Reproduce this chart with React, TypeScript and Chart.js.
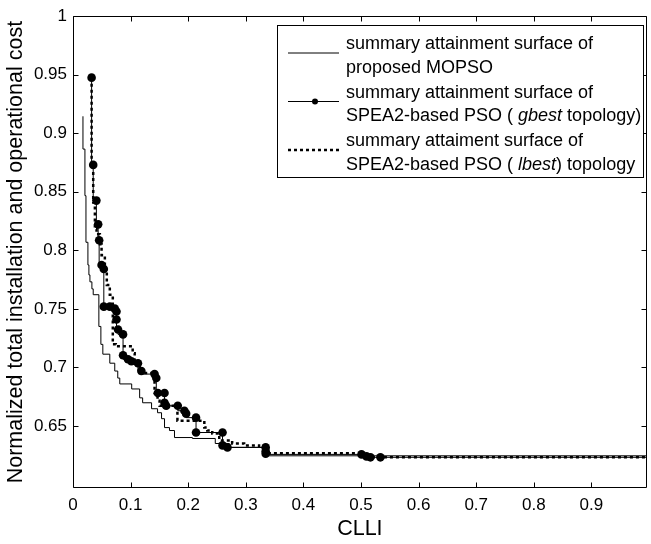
import React, { useEffect, useRef } from 'react';
import { Chart, registerables } from 'chart.js';

Chart.register(...registerables);

// ---- data ----
const xTicks = [0, 0.1, 0.2, 0.3, 0.4, 0.5, 0.6, 0.7, 0.8, 0.9];
const yTicks = [0.65, 0.7, 0.75, 0.8, 0.85, 0.9, 0.95, 1];

const mopsoX = [0.0173, 0.0207, 0.0225, 0.0259, 0.0276, 0.0294, 0.0328, 0.0351, 0.0449, 0.0484, 0.0518, 0.0639, 0.0725, 0.0777, 0.0812, 0.1019, 0.1157, 0.1209, 0.1364, 0.1468, 0.1537, 0.1589, 0.1675, 0.1762, 0.2073, 0.247, 0.2712, 0.3316, 1.0];
const mopsoY = [0.9145, 0.8865, 0.8467, 0.8069, 0.7875, 0.779, 0.7731, 0.7671, 0.7621, 0.735, 0.7197, 0.7113, 0.7036, 0.6969, 0.6909, 0.6859, 0.6816, 0.674, 0.6698, 0.6647, 0.6613, 0.6562, 0.6486, 0.6461, 0.6401, 0.6393, 0.635, 0.6317, 0.6245];

const gbestX = [0.0323, 0.0351, 0.0406, 0.0437, 0.0454, 0.0496, 0.0535, 0.0535, 0.0639, 0.0725, 0.0755, 0.0755, 0.0782, 0.0869, 0.0869, 0.0955, 0.1014, 0.1128, 0.1187, 0.1416, 0.1446, 0.1473, 0.1589, 0.1589, 0.1618, 0.1819, 0.1934, 0.1964, 0.2136, 0.2136, 0.2596, 0.2596, 0.2682, 0.3345, 0.3345, 0.3345, 0.5009, 0.5095, 0.5164, 0.5337, 1.0];
const gbestY = [0.9475, 0.873, 0.8425, 0.8222, 0.8086, 0.7875, 0.7841, 0.7519, 0.7519, 0.7502, 0.7477, 0.7409, 0.7324, 0.7282, 0.7104, 0.707, 0.7053, 0.7036, 0.6969, 0.6943, 0.6909, 0.6782, 0.6782, 0.6698, 0.6672, 0.6672, 0.663, 0.6605, 0.6571, 0.6444, 0.6444, 0.6334, 0.6317, 0.6317, 0.6283, 0.6262, 0.6257, 0.624, 0.6232, 0.6232, 0.6232];

const lbestX = [0.0323, 0.0351, 0.038, 0.0409, 0.0466, 0.0496, 0.0553, 0.0587, 0.0639, 0.0691, 0.0743, 0.1036, 0.1071, 0.1157, 0.1416, 0.1468, 0.1503, 0.1813, 0.19, 0.228, 0.2332, 0.2418, 0.2539, 0.2763, 0.2971, 0.323, 0.3333, 0.3333, 0.5009, 0.5095, 0.5337, 1.0];
const lbestY = [0.9475, 0.873, 0.8408, 0.818, 0.8137, 0.8053, 0.7959, 0.7832, 0.7705, 0.7621, 0.7197, 0.718, 0.7121, 0.7036, 0.6952, 0.6782, 0.6715, 0.6672, 0.6545, 0.6545, 0.6486, 0.6461, 0.6435, 0.6376, 0.6351, 0.6334, 0.6317, 0.6266, 0.6266, 0.624, 0.6232, 0.6232];

const xTitle = 'CLLI';
const yTitle = 'Normalized total installation and operational cost';

// legend lines: [text, italic]
const legendText: [string, boolean][][][] = [
  [[['summary attainment surface of', false]], [['proposed MOPSO', false]]],
  [[['summary attainment surface of', false]], [['SPEA2-based PSO ( ', false], ['gbest', true], [' topology)', false]]],
  [[['summary attaiment surface of', false]], [['SPEA2-based PSO ( ', false], ['lbest', true], [') topology', false]]],
];

const FONT = "'Liberation Sans', Arial, Helvetica, sans-serif";

const boxPlugin = {
  id: 'matlabBox',
  afterDatasetsDraw(chart: any) {
    const { ctx, chartArea, scales } = chart;
    const L = Math.round(chartArea.left) + 0.5;
    const R = Math.round(chartArea.right) - 0.5;
    const T = Math.round(chartArea.top) + 0.5;
    const B = Math.round(chartArea.bottom) - 0.5;
    const tl = 5;
    ctx.save();
    ctx.strokeStyle = '#000';
    ctx.lineWidth = 1;
    ctx.beginPath();
    ctx.rect(L, T, R - L, B - T);
    scales.x.ticks.forEach((t: any) => {
      const px = Math.round(scales.x.getPixelForValue(t.value)) + 0.5;
      ctx.moveTo(px, B); ctx.lineTo(px, B - tl);
      ctx.moveTo(px, T); ctx.lineTo(px, T + tl);
    });
    scales.y.ticks.forEach((t: any) => {
      const py = Math.round(scales.y.getPixelForValue(t.value)) + 0.5;
      ctx.moveTo(L, py); ctx.lineTo(L + tl, py);
      ctx.moveTo(R, py); ctx.lineTo(R - tl, py);
    });
    ctx.stroke();
    ctx.restore();
  },
};

const legendPlugin = {
  id: 'matlabLegend',
  afterDraw(chart: any) {
    const { ctx, chartArea } = chart;
    const w = 366, h = 152;
    const left = Math.round(chartArea.right) - 370;
    const top = Math.round(chartArea.top) + 9;
    ctx.save();
    ctx.fillStyle = '#fff';
    ctx.fillRect(left, top, w, h);
    ctx.strokeStyle = '#000';
    ctx.lineWidth = 1;
    ctx.strokeRect(left + 0.5, top + 0.5, w, h);
    const size = 18;
    ctx.textBaseline = 'alphabetic';
    ctx.textAlign = 'left';
    legendText.forEach((item, i) => {
      const ds = chart.data.datasets[i];
      const b1 = top + 24 + 48.5 * i;
      const b2 = b1 + 23.5;
      const sy = b1 + 4;
      ctx.save();
      ctx.strokeStyle = '#000';
      ctx.lineWidth = ds.borderWidth;
      ctx.setLineDash(ds.borderDash || []);
      ctx.beginPath();
      ctx.moveTo(left + 11, sy);
      ctx.lineTo(left + 62, sy);
      ctx.stroke();
      if (ds.legendMarker) {
        ctx.fillStyle = '#000';
        ctx.beginPath();
        ctx.arc(left + 38, sy, 3, 0, Math.PI * 2);
        ctx.fill();
      }
      ctx.restore();
      ctx.fillStyle = '#000';
      [b1, b2].forEach((by, li) => {
        let x = left + 69;
        item[li].forEach(([txt, it]) => {
          ctx.font = `${it ? 'italic ' : ''}${size}px ${FONT}`;
          ctx.fillText(txt, x, by);
          x += ctx.measureText(txt).width;
        });
      });
    });
    ctx.restore();
  },
};

export default function App() {
  const ref = useRef<HTMLCanvasElement | null>(null);
  useEffect(() => {
    if (!ref.current) return;
    Chart.defaults.font.family = FONT;
    Chart.defaults.color = '#000';
    const toPts = (xs: number[], ys: number[]) => xs.map((x, i) => ({ x, y: ys[i] }));
    const chart = new Chart(ref.current, {
      type: 'line',
      data: {
        datasets: [
          {
            label: 'summary attainment surface of proposed MOPSO',
            data: toPts(mopsoX, mopsoY),
            borderColor: '#000',
            borderWidth: 1,
            pointRadius: 0,
            stepped: 'after',
            fill: false,
            order: 3,
          },
          {
            label: 'summary attainment surface of SPEA2-based PSO ( gbest topology)',
            data: toPts(gbestX, gbestY),
            borderColor: '#000',
            borderWidth: 1,
            pointRadius: (c: any) => (c.dataIndex === gbestX.length - 1 ? 0 : 4.3),
            pointBackgroundColor: '#000',
            pointBorderColor: '#000',
            pointBorderWidth: 0,
            stepped: 'after',
            fill: false,
            order: 1,
            legendMarker: true,
          } as any,
          {
            label: 'summary attaiment surface of SPEA2-based PSO ( lbest) topology',
            data: toPts(lbestX, lbestY),
            borderColor: '#000',
            borderWidth: 2.5,
            borderDash: [3, 3],
            pointRadius: 0,
            stepped: 'after',
            fill: false,
            order: 2,
          },
        ],
      },
      options: {
        animation: false,
        responsive: false,
        devicePixelRatio: 1,
        layout: { padding: { left: 0, top: 12, right: 1, bottom: 0 } },
        plugins: { legend: { display: false }, tooltip: { enabled: false } },
        scales: {
          x: {
            type: 'linear',
            min: 0,
            max: 0.996,
            afterBuildTicks: (s: any) => { s.ticks = xTicks.map((v) => ({ value: v })); },
            afterFit: (s: any) => { s.height = 56; },
            grid: { display: false, drawTicks: false },
            border: { display: false },
            ticks: { padding: 7, font: { size: 17 }, color: '#000', maxRotation: 0, autoSkip: false, callback: (v: any) => String(v) },
            title: { display: true, text: xTitle, font: { size: 21.5 }, color: '#000', padding: { top: 0, bottom: 2 } },
          },
          y: {
            type: 'linear',
            min: 0.597,
            max: 1,
            afterBuildTicks: (s: any) => { s.ticks = yTicks.map((v) => ({ value: v })); },
            afterFit: (s: any) => { s.width = 73; },
            grid: { display: false, drawTicks: false },
            border: { display: false },
            ticks: { padding: 6, font: { size: 17 }, color: '#000', autoSkip: false, callback: (v: any) => String(v) },
            title: { display: true, text: yTitle, font: { size: 21.5 }, color: '#000', padding: { top: 3, bottom: 0 } },
          },
        },
      } as any,
      plugins: [boxPlugin, legendPlugin],
    });
    return () => chart.destroy();
  }, []);
  return (
    <div style={{ position: 'absolute', left: 0, top: 0, width: 651, height: 544, background: '#fff' }}>
      <canvas ref={ref} width={651} height={544} style={{ display: 'block' }} />
    </div>
  );
}
